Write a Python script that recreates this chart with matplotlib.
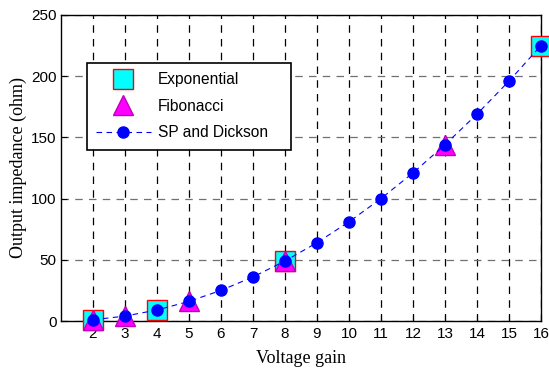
import matplotlib.pyplot as plt

# data
sp_gain = [2, 3, 4, 5, 6, 7, 8, 9, 10, 11, 12, 13, 14, 15, 16]
sp_imp = [1, 4, 9, 16, 25, 36, 49, 64, 81, 100, 121, 144, 169, 196, 225]
exp_gain = [2, 4, 8, 16]
exp_imp = [1, 9, 49, 225]
fib_gain = [2, 3, 5, 8, 13]
fib_imp = [1, 4, 16, 49, 144]
xticks = list(range(2, 17))
yticks = [0, 50, 100, 150, 200, 250]

plt.rcParams['font.family'] = 'Liberation Sans'

fig = plt.figure(figsize=(5.49, 3.73), dpi=100)
ax = fig.add_axes([0.111, 0.1394, 0.8744, 0.8204])

ax.plot(exp_gain, exp_imp, 's', color='cyan', markeredgecolor='red',
        markersize=14, markeredgewidth=1, label='Exponential', clip_on=False, zorder=3)
ax.plot(fib_gain, fib_imp, '^', color='magenta', markeredgecolor='#c000c0',
        markersize=15, markeredgewidth=1, label='Fibonacci', clip_on=False, zorder=4)
ax.plot(sp_gain, sp_imp, '--', color='blue', marker='o', markersize=8,
        linewidth=0.8, dashes=(5, 4), label='SP and Dickson', clip_on=False, zorder=5)

ax.set_xlim(1, 16)
ax.set_ylim(0, 250)
ax.set_xticks(xticks)
ax.set_yticks(yticks)
ax.tick_params(direction='in', labelsize=11, length=4)
ax.tick_params(axis='x', pad=4)
ax.tick_params(axis='y', pad=3)

# vertical grid black, horizontal grid grey
ax.xaxis.grid(True, color='black', linestyle=(0, (6, 5)), linewidth=0.9)
ax.yaxis.grid(True, color='#707070', linestyle=(0, (6, 5)), linewidth=0.9)
ax.set_axisbelow(True)
for s in ax.spines.values():
    s.set_linewidth(1)

ax.set_xlabel('Voltage gain', family='Liberation Serif', fontsize=13, labelpad=7)
ax.set_ylabel('Output impedance (ohm)', family='Liberation Serif', fontsize=13, labelpad=3)

leg = ax.legend(loc='upper left', bbox_to_anchor=(0.054, 0.565, 0.425, 0.278),
                mode='expand', fontsize=11.2,
                fancybox=False, edgecolor='black', framealpha=1,
                borderpad=0.6, labelspacing=0.74, handlelength=3.5,
                handletextpad=0.45, borderaxespad=0)
leg.get_frame().set_linewidth(1.2)

fig.savefig('out.png', dpi=100)
